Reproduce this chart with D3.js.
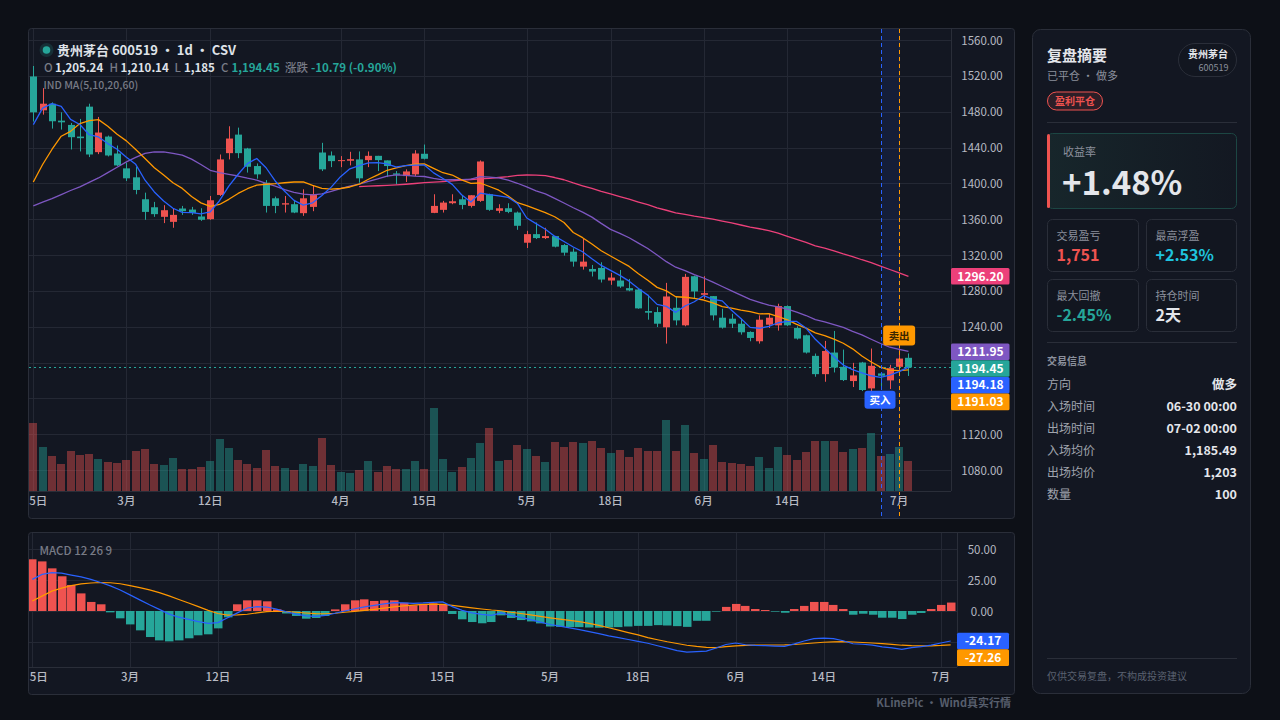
<!DOCTYPE html>
<html>
<head>
<meta charset="utf-8">
<script src="https://cdn.jsdelivr.net/npm/d3@7"></script>
<style>
  body { margin: 0; background: #0d1017; width: 1280px; height: 720px; overflow: hidden; }
  svg text { font-family: "Noto Sans CJK SC", "Noto Sans", sans-serif; }
</style>
</head>
<body>
<svg id="chart" width="1280" height="720"></svg>
<script>
const opens = [1519.3,1481.5,1488.9,1470,1465.2,1452.2,1485.6,1434.8,1452.2,1433.3,
  1416.7,1406.7,1382.2,1373.3,1362.6,1357,1371.9,1370.7,1363,1360,
  1387,1433.7,1454.4,1438.9,1419.3,1400.7,1383.3,1376.3,1376.7,1366.7,
  1373.7,1434.4,1431.1,1425.2,1425.2,1426.7,1425.9,1430.7,1425.6,1411.1,
  1408.1,1410,1433,1367,1370.4,1377.8,1382.2,1374.8,1380.4,1387.8,
  1369.3,1372.2,1367.4,1333.7,1343.3,1338.9,1341.1,1331.1,1323.7,1307,
  1304.4,1305.6,1291.5,1291.5,1283,1281.5,1257.4,1256.3,1239.3,1261.1,
  1241.5,1296.3,1275.6,1274.1,1250,1248.9,1243.3,1234.1,1223.7,1242.2,
  1241.5,1263,1238.5,1230.4,1207.4,1187,1211.1,1195.2,1179.3,1200,
  1171.1,1187.8,1180,1195.2,1205.24];
const highs = [1531,1506.3,1490.4,1479.3,1467.4,1471.9,1488.9,1474.1,1453.3,1442.2,
  1423,1418.5,1389.6,1379.3,1375.6,1372.2,1374.8,1373.7,1372.2,1385.9,
  1432.2,1463.7,1462.2,1439.6,1422.2,1403.7,1385.2,1385.9,1381.5,1393.3,
  1398.1,1445.2,1435.6,1430.4,1435.2,1435.6,1435.6,1430.7,1425.6,1413.7,
  1415.6,1437,1443.3,1387.8,1380.4,1387.8,1387,1386.7,1425.6,1388.5,
  1376.7,1377.8,1368.5,1347,1356.3,1350.4,1341.1,1332.2,1327.4,1337.8,
  1308.9,1311.9,1300,1303.3,1293.3,1282.2,1275.6,1261.9,1288.9,1274.1,
  1298.9,1297,1296.3,1274.1,1260,1254.4,1248.9,1234.8,1252.6,1254.4,
  1265.6,1263.7,1240.4,1231.1,1210,1224.1,1235.2,1214.4,1199.6,1200.7,
  1215.6,1188.5,1197.4,1215.6,1210.14];
const lows = [1469,1476.7,1461.1,1460,1437.8,1435.6,1429.3,1432.6,1430,1419.3,
  1402.6,1387.8,1359.3,1362.6,1355.6,1350.4,1364.8,1364.8,1358.1,1359.3,
  1385.9,1426.7,1428.1,1412,1405.2,1367.4,1366.7,1367.4,1366.7,1363.7,
  1368.9,1413.7,1418.1,1418.1,1420,1400.7,1418.1,1413.7,1407,1398.9,
  1401.5,1408.1,1426.7,1366.7,1367.4,1376.7,1371.1,1373,1379.3,1369.3,
  1366.7,1366.7,1348.1,1327.8,1337.8,1337.8,1328.5,1319.3,1307,1303.7,
  1296,1289.3,1286.7,1283.3,1279.6,1260,1247.8,1239.6,1221.1,1241.5,
  1240.4,1271.1,1271.1,1247,1237.8,1238.5,1231.1,1223.7,1221.1,1238.5,
  1235.6,1240.7,1225.6,1210,1184.1,1178.5,1188.9,1179.3,1172.6,1168.1,
  1167.4,1173,1170.4,1191.5,1185];
const closes = [1479.3,1488.9,1469.3,1468.1,1451.5,1450.4,1432.2,1456.7,1431.1,1420,
  1405.6,1392.6,1368.1,1365.6,1370,1364.8,1368.9,1367,1359.3,1381.1,
  1426.7,1450,1433.7,1418.5,1410,1374.8,1374.8,1377.8,1367.4,1383.3,
  1387.8,1415.6,1424.8,1425.9,1427,1405.6,1430.7,1425.9,1419.3,1409.6,
  1413.3,1433.3,1427.4,1374.8,1378.5,1380,1375.9,1386.7,1424.4,1370.4,
  1372.2,1368.1,1352.6,1343.3,1338.9,1341.1,1329.3,1322.6,1312.6,1312.6,
  1301.5,1292.6,1294.8,1284.8,1280.4,1260.4,1255.6,1243.3,1273.7,1247,
  1295.6,1279.3,1277.4,1252.6,1238.9,1243.3,1233.7,1227.4,1247.8,1250,
  1263,1241.5,1226.7,1211.1,1187,1212.9,1194.4,1180.4,1185.6,1169.3,
  1196.3,1185.2,1193.7,1204.4,1194.45];

// volume in 万手, and the colour the bar is drawn with (u = red, d = teal)
const volumes = [6.8,4.4,3.5,2.7,4.0,3.6,3.7,3.2,2.9,2.8,
  3.1,4.0,4.2,2.7,2.6,3.3,2.2,2.2,2.4,3.0,
  5.2,4.3,3.1,2.7,2.3,4.1,2.5,2.3,2.1,2.7,
  2.5,5.3,2.6,1.9,1.8,2.1,3.0,1.9,2.5,2.2,
  2.2,3.0,2.2,8.3,3.2,1.9,2.4,3.3,4.8,6.3,
  3.0,3.1,4.6,4.2,3.5,2.9,4.9,4.4,4.9,4.8,
  5.0,4.3,3.8,4.1,3.4,4.3,4.0,4.0,7.1,4.0,
  6.6,3.8,3.2,4.6,2.9,2.8,2.7,2.5,3.4,2.3,
  4.4,3.6,3.1,3.9,5.0,5.0,5.0,3.9,4.2,4.3,
  5.8,3.5,3.7,4.4,3.0];
const volDirs = ["u","d","u","u","u","u","u","d","u","u",
  "u","u","u","u","d","d","u","u","u","d",
  "d","d","u","u","u","u","u","d","u","d",
  "d","u","u","d","d","u","d","u","u","u",
  "d","d","u","d","d","d","u","d","d","u",
  "d","u","u","d","u","d","u","u","u","d",
  "u","u","d","u","u","u","u","u","d","u",
  "d","u","d","u","u","u","u","u","d","d",
  "d","u","u","u","u","d","u","u","d","u",
  "d","u","d","d","u"];

// moving-average values before enough bars are on screen
const ma5Head = [1465.6,1484,1488.9,1486];
const ma10Head = [1401.5,1421,1437.8,1452.6,1458,1466.7,1470,1471.1,1463.7];
const ma20Head = [1374.8,1379,1383,1387.5,1392,1396,1401,1406,1412,1418,
  1424,1429,1433.5,1435.2,1435,1433.5,1431.5,1427,1421];
const ma60Start = 35;
const ma60Head = [1396.3,1396.8,1397.3,1397.8,1398.3,1399,1399.8,1400.7,1401.3,1402,
  1402.8,1403.5,1404.3,1405,1405.6,1406.5,1407.5,1408.8,1409.3,1409.2,
  1408.5,1406.5,1404,1400.5];

const macdHist = [41.7,40,34.4,28,21,14.2,7.3,5.4,-1.1,-5.9,
  -10.8,-15.6,-21,-23.7,-24.5,-23.7,-22,-19.6,-18.8,-14,
  -5.1,5.4,8.6,8.6,7.8,1.3,-2,-4,-6.2,-5.6,
  -4,1.3,5.4,8.6,9.4,8.1,8.6,8.6,6.7,4.6,
  5.4,6.2,5.4,-2.4,-6.7,-8.9,-9.9,-8.9,-3.5,-5.6,
  -7.3,-8.4,-10,-12.5,-12.8,-13,-13,-13.3,-13.5,-13.3,
  -13,-12.5,-12,-12,-11.4,-11.7,-12.2,-12.8,-7.9,-7.9,
  -0.5,3.3,5.7,4.1,1.6,0.8,-0.5,-1.4,1.6,4.1,
  7.3,7.3,4.9,1.6,-3,-2.2,-3,-5.4,-5.4,-6.5,
  -3,-1.6,1.6,4.9,6.8];
const difLine = [25.5,29.5,31,30.5,29,27.5,25.5,23,20.3,17,
  13,9,5,1.3,-2.5,-5,-6.7,-8.5,-10,-9.4,
  -5.5,-1.5,2.4,3.5,3.2,1.5,-0.6,-2.5,-4,-4.4,
  -3.6,-1.8,0,1.8,3.3,4.5,5.8,6.7,6.5,6.2,
  6.5,7,7.3,3.5,0.5,-1.5,-2.7,-3.5,-1.5,-3.5,
  -5.2,-7,-9,-10.9,-12.2,-13.6,-15,-16.6,-18.3,-20,
  -21.5,-23,-24.5,-26,-28,-30,-32,-33.2,-32.8,-32.3,
  -29.8,-27,-25.8,-27.2,-27.8,-28,-28.3,-28.5,-26.5,-24.2,
  -22.3,-21.8,-22.3,-24,-26.4,-26.8,-27.5,-29,-29.8,-31,
  -29.5,-28.8,-27.5,-25.8,-24.17];
const deaLine = [8,12,16,18.5,20.5,21.8,22.6,23,22.8,22,
  20.5,18.8,17,14.8,12.2,9.3,6.5,3.5,0.5,-2,
  -3.3,-3.2,-2.6,-1.5,-0.5,-0.2,-0.5,-1,-1.6,-2.1,
  -2.2,-1.8,-1,-0.3,0.5,1.3,2.3,3.3,4.2,4.8,
  5.3,5.5,5.4,4.6,3.5,2.5,1.6,0.8,0.2,-1,
  -2,-3.2,-4.4,-5.5,-6.6,-7.6,-8.6,-10,-11.6,-13.5,
  -15.4,-17.4,-19.3,-21.5,-23.2,-24.8,-26.2,-27.6,-28.6,-29.4,
  -29.5,-28.8,-28.2,-27.8,-27.5,-27.4,-27.4,-27.3,-27,-26.4,
  -25.8,-25.2,-24.9,-24.7,-25,-25.4,-25.8,-26.3,-26.9,-27.6,
  -28,-28.2,-28.1,-27.8,-27.26];

const tickIdx = [0,10,19,33,42,53,62,72,81,93];
const tickLabels = ["5日","3月","12日","4月","15日","5月","18日","6月","14日","7月"];
const priceTicks = [1560,1520,1480,1440,1400,1360,1320,1280,1240,1200,1160,1120,1080];
const macdTicks = [50,25,0,-25];

const tagValues = [1296.20,1211.95,1194.45,1194.18,1191.03];
const tagColors = ["#ec407a","#7e57c2","#26a69a","#2962ff","#ff9800"];
const macdTagValues = [-24.17,-27.26];
const macdTagColors = ["#2962ff","#ff9800"];

const buyIdx = 91, sellIdx = 93;

const UP = "#ef5350", DOWN = "#26a69a", GRID = "#242834", AXIS_TXT = "#b7bac3";

const svg = d3.select("#chart");
const n = closes.length;

// panels
svg.append("rect").attr("x", 28.5).attr("y", 28.5).attr("width", 986).attr("height", 490)
  .attr("rx", 3).attr("fill", "#131722").attr("stroke", "#2a2e39");
svg.append("rect").attr("x", 28.5).attr("y", 532.5).attr("width", 986).attr("height", 162)
  .attr("rx", 3).attr("fill", "#131722").attr("stroke", "#2a2e39");

// scales
const x = d3.scaleBand().domain(d3.range(n)).range([28.65, 28.65 + 9.31 * n]);
const cx = i => x(i) + x.bandwidth() / 2;
const y = d3.scaleLinear().domain([1080, 1560]).range([470, 40]);
const yVol = d3.scaleLinear().domain([0, 10]).range([491, 391]);

const xm = d3.scaleBand().domain(d3.range(n)).range([27.4, 27.4 + 9.77 * n]);
const cxm = i => xm(i) + xm.bandwidth() / 2;
const ym = d3.scaleLinear().domain([-25, 50]).range([642, 549]);

const defs = svg.append("defs");
defs.append("clipPath").attr("id", "clipMain").append("rect")
  .attr("x", 29).attr("y", 29).attr("width", 922).attr("height", 462);
defs.append("clipPath").attr("id", "clipMacd").append("rect")
  .attr("x", 29).attr("y", 533).attr("width", 928).attr("height", 134);

// ---------- main price pane ----------
const grid = svg.append("g");
grid.selectAll(".hg").data(priceTicks).enter().append("line")
  .attr("x1", 29).attr("x2", 951)
  .attr("y1", d => Math.round(y(d)) + 0.5).attr("y2", d => Math.round(y(d)) + 0.5)
  .attr("stroke", GRID);
grid.selectAll(".vg").data(tickIdx).enter().append("line")
  .attr("x1", d => Math.round(cx(d)) + 0.5).attr("x2", d => Math.round(cx(d)) + 0.5)
  .attr("y1", 29).attr("y2", 491)
  .attr("stroke", GRID);

// trade holding band
const bx0 = Math.round(cx(buyIdx)) + 0.5, bx1 = Math.round(cx(sellIdx)) + 0.5;
svg.append("rect").attr("x", bx0).attr("y", 29).attr("width", bx1 - bx0).attr("height", 490)
  .attr("fill", "rgba(41,98,255,0.1)");

const main = svg.append("g").attr("clip-path", "url(#clipMain)");

// volume
main.selectAll(".vol").data(volumes).enter().append("rect")
  .attr("x", (d, i) => Math.round(cx(i)) - 4)
  .attr("width", 8)
  .attr("y", d => yVol(d))
  .attr("height", d => yVol(0) - yVol(d))
  .attr("fill", (d, i) => volDirs[i] === "u" ? "rgba(239,83,80,0.42)" : "rgba(38,166,154,0.42)");

// last close dotted line
main.append("line")
  .attr("x1", 29).attr("x2", 951)
  .attr("y1", Math.round(y(closes[n - 1])) + 0.5).attr("y2", Math.round(y(closes[n - 1])) + 0.5)
  .attr("stroke", DOWN).attr("stroke-dasharray", "2,3");

// candles
const candle = main.selectAll(".candle").data(closes).enter().append("g");
candle.append("line")
  .attr("x1", (d, i) => Math.round(cx(i)) + 0.5).attr("x2", (d, i) => Math.round(cx(i)) + 0.5)
  .attr("y1", (d, i) => y(highs[i])).attr("y2", (d, i) => y(lows[i]))
  .attr("stroke", (d, i) => d >= opens[i] ? UP : DOWN);
candle.append("rect")
  .attr("x", (d, i) => Math.round(cx(i)) - 3)
  .attr("width", 7)
  .attr("y", (d, i) => y(Math.max(d, opens[i])))
  .attr("height", (d, i) => Math.max(1, Math.abs(y(d) - y(opens[i]))))
  .attr("fill", (d, i) => d >= opens[i] ? UP : DOWN);

// moving averages
function movingAvg(len, head, start) {
  return closes.map((c, i) => {
    if (i >= len - 1) return d3.mean(closes.slice(i - len + 1, i + 1));
    if (i >= start) return head[i - start];
    return null;
  });
}
const maSeries = [
  { vals: movingAvg(5, ma5Head, 0), color: "#2962ff" },
  { vals: movingAvg(10, ma10Head, 0), color: "#ff9800" },
  { vals: movingAvg(20, ma20Head, 0), color: "#7e57c2" },
  { vals: movingAvg(60, ma60Head, ma60Start), color: "#ec407a" }
];
const maLine = d3.line()
  .defined(d => d[1] != null)
  .x(d => cx(d[0]))
  .y(d => y(d[1]));
maSeries.slice().reverse().forEach(s => {
  main.append("path")
    .attr("d", maLine(s.vals.map((v, i) => [i, v])))
    .attr("fill", "none").attr("stroke", s.color).attr("stroke-width", 1.3)
    .attr("stroke-linejoin", "round");
});

// buy / sell lines and labels
svg.append("line").attr("x1", bx0).attr("x2", bx0).attr("y1", 29).attr("y2", 519)
  .attr("stroke", "#2962ff").attr("stroke-dasharray", "4,3");
svg.append("line").attr("x1", bx1).attr("x2", bx1).attr("y1", 29).attr("y2", 519)
  .attr("stroke", "#ff9800").attr("stroke-dasharray", "4,3");

const buyY = y(lows[buyIdx]) + 4;
svg.append("rect").attr("x", cx(buyIdx) - 16).attr("y", buyY).attr("width", 31).attr("height", 18)
  .attr("rx", 3).attr("fill", "#2962ff");
svg.append("text").attr("x", cx(buyIdx) - 0.5).attr("y", buyY + 13).attr("text-anchor", "middle")
  .attr("font-size", 10.5).attr("font-weight", 700).attr("fill", "#ffffff").text("买入");

const sellY = y(highs[sellIdx]) - 23;
svg.append("rect").attr("x", cx(sellIdx) - 16).attr("y", sellY).attr("width", 32).attr("height", 20)
  .attr("rx", 3).attr("fill", "#ff9800");
svg.append("text").attr("x", cx(sellIdx)).attr("y", sellY + 14).attr("text-anchor", "middle")
  .attr("font-size", 10.5).attr("font-weight", 700).attr("fill", "#3a2600").text("卖出");

// axes lines
svg.append("line").attr("x1", 951.5).attr("x2", 951.5).attr("y1", 29).attr("y2", 491).attr("stroke", "#2a2e39");
svg.append("line").attr("x1", 29).attr("x2", 951).attr("y1", 491.5).attr("y2", 491.5).attr("stroke", "#2a2e39");

// price tags on the axis
function placeTags(values, scale, gap) {
  const order = values.map((v, i) => ({ v, i, ty: scale(v) })).sort((a, b) => a.ty - b.ty);
  let prev = -Infinity;
  order.forEach(o => { o.ty = Math.max(o.ty, prev + gap); prev = o.ty; });
  return order;
}
const tags = placeTags(tagValues, y, 16.7);

// price axis (labels hidden under a tag are left out, as on the chart)
const visibleTicks = priceTicks.filter(t => !tags.some(g => Math.abs(g.ty - y(t)) < 14));
const yAxis = d3.axisRight(y).tickValues(visibleTicks).tickSize(0).tickFormat(d3.format(".2f"));
const yAxisG = svg.append("g").attr("transform", "translate(951,0)").call(yAxis);
yAxisG.select(".domain").remove();
yAxisG.selectAll("text").attr("x", 31).attr("text-anchor", "middle").attr("dy", "0.35em")
  .attr("fill", AXIS_TXT).attr("font-size", 11.5).attr("font-family", "Noto Sans CJK SC");

tags.forEach(t => {
  svg.append("rect").attr("x", 951).attr("y", t.ty - 8.3).attr("width", 58.5).attr("height", 16.6)
    .attr("rx", 1.5).attr("fill", tagColors[t.i]);
  svg.append("text").attr("x", 980.5).attr("y", t.ty + 4.3).attr("text-anchor", "middle")
    .attr("font-size", 12).attr("font-weight", 700).attr("fill", "#ffffff")
    .text(t.v.toFixed(2));
});

// time axis
const xAxis = d3.axisBottom(x).tickValues(tickIdx).tickSize(0)
  .tickFormat(i => tickLabels[tickIdx.indexOf(i)]);
const xAxisG = svg.append("g").attr("transform", "translate(0,491)").call(xAxis);
xAxisG.select(".domain").remove();
xAxisG.selectAll("text").attr("y", 14).attr("dy", 0)
  .attr("fill", AXIS_TXT).attr("font-size", 11.5).attr("font-weight", 500)
  .attr("font-family", "Noto Sans CJK SC");
xAxisG.selectAll(".tick").filter(d => d === 0).select("text").attr("text-anchor", "start").attr("x", -4);

// legend
svg.append("circle").attr("cx", 46.5).attr("cy", 50).attr("r", 7).attr("fill", "rgba(38,166,154,0.18)");
svg.append("circle").attr("cx", 46.5).attr("cy", 50).attr("r", 3.8).attr("fill", DOWN);
svg.append("text").attr("x", 57).attr("y", 54.5).attr("font-size", 13).attr("font-weight", 700)
  .attr("fill", "#dfe2e8").text("贵州茅台 600519 · 1d · CSV");

const ohlcParts = [
  { t: "O", x: 44, c: "#787b86", w: 500 },
  { t: "1,205.24", x: 55, c: "#dfe2e8", w: 700 },
  { t: "H", x: 109.5, c: "#787b86", w: 500 },
  { t: "1,210.14", x: 120.5, c: "#dfe2e8", w: 700 },
  { t: "L", x: 174.5, c: "#787b86", w: 500 },
  { t: "1,185", x: 184, c: "#dfe2e8", w: 700 },
  { t: "C", x: 221, c: "#787b86", w: 500 },
  { t: "1,194.45", x: 231.5, c: DOWN, w: 700 },
  { t: "涨跌", x: 285, c: "#787b86", w: 500 },
  { t: "-10.79 (-0.90%)", x: 311, c: DOWN, w: 700 }
];
svg.selectAll(".ohlc").data(ohlcParts).enter().append("text")
  .attr("x", d => d.x).attr("y", 72).attr("font-size", 11.5).attr("font-weight", d => d.w)
  .attr("fill", d => d.c).text(d => d.t);
svg.append("text").attr("x", 43.5).attr("y", 89).attr("font-size", 10.5).attr("font-weight", 500)
  .attr("fill", "#787b86").text("IND MA(5,10,20,60)");

// ---------- MACD pane ----------
const mgrid = svg.append("g");
mgrid.selectAll(".hg").data(macdTicks).enter().append("line")
  .attr("x1", 29).attr("x2", 957)
  .attr("y1", d => Math.round(ym(d)) + 0.5).attr("y2", d => Math.round(ym(d)) + 0.5)
  .attr("stroke", GRID);
mgrid.selectAll(".vg").data(tickIdx).enter().append("line")
  .attr("x1", d => Math.round(cxm(d)) + 0.5).attr("x2", d => Math.round(cxm(d)) + 0.5)
  .attr("y1", 533).attr("y2", 667)
  .attr("stroke", GRID);

const macd = svg.append("g").attr("clip-path", "url(#clipMacd)");
macd.selectAll(".hist").data(macdHist).enter().append("rect")
  .attr("x", (d, i) => Math.round(cxm(i)) - 4)
  .attr("width", 8.5)
  .attr("y", d => Math.min(ym(d), ym(0)))
  .attr("height", d => Math.abs(ym(d) - ym(0)))
  .attr("fill", d => d >= 0 ? UP : DOWN);

const mLine = d3.line().x((d, i) => cxm(i)).y(d => ym(d));
macd.append("path").attr("d", mLine(deaLine)).attr("fill", "none")
  .attr("stroke", "#ff9800").attr("stroke-width", 1.2);
macd.append("path").attr("d", mLine(difLine)).attr("fill", "none")
  .attr("stroke", "#2962ff").attr("stroke-width", 1.2);

svg.append("line").attr("x1", 957.5).attr("x2", 957.5).attr("y1", 533).attr("y2", 667).attr("stroke", "#2a2e39");
svg.append("line").attr("x1", 29).attr("x2", 957).attr("y1", 667.5).attr("y2", 667.5).attr("stroke", "#2a2e39");

svg.append("text").attr("x", 39.5).attr("y", 555).attr("font-size", 11.5).attr("font-weight", 500)
  .attr("fill", "#787b86").text("MACD 12 26 9");

const myAxis = d3.axisRight(ym).tickValues([50, 25, 0]).tickSize(0).tickFormat(d3.format(".2f"));
const myAxisG = svg.append("g").attr("transform", "translate(957,0)").call(myAxis);
myAxisG.select(".domain").remove();
myAxisG.selectAll("text").attr("x", 25).attr("text-anchor", "middle").attr("dy", "0.35em")
  .attr("fill", AXIS_TXT).attr("font-size", 11.5).attr("font-family", "Noto Sans CJK SC");

const mxAxis = d3.axisBottom(xm).tickValues(tickIdx).tickSize(0)
  .tickFormat(i => tickLabels[tickIdx.indexOf(i)]);
const mxAxisG = svg.append("g").attr("transform", "translate(0,667)").call(mxAxis);
mxAxisG.select(".domain").remove();
mxAxisG.selectAll("text").attr("y", 14).attr("dy", 0)
  .attr("fill", AXIS_TXT).attr("font-size", 11.5).attr("font-weight", 500)
  .attr("font-family", "Noto Sans CJK SC");
mxAxisG.selectAll(".tick").filter(d => d === 0).select("text").attr("text-anchor", "start").attr("x", -2.5);

placeTags(macdTagValues, ym, 16.7).forEach(t => {
  svg.append("rect").attr("x", 957).attr("y", t.ty - 8.3).attr("width", 52).attr("height", 16.6)
    .attr("rx", 1.5).attr("fill", macdTagColors[t.i]);
  svg.append("text").attr("x", 983).attr("y", t.ty + 4.3).attr("text-anchor", "middle")
    .attr("font-size", 12).attr("font-weight", 700).attr("fill", "#ffffff")
    .text(t.v.toFixed(2));
});

svg.append("text").attr("x", 1011).attr("y", 707).attr("text-anchor", "end")
  .attr("font-size", 11).attr("font-weight", 700).attr("fill", "#575e6c")
  .text("KLinePic · Wind真实行情");

// ---------- summary side panel ----------
const side = svg.append("g");
side.append("rect").attr("x", 1032.5).attr("y", 29.5).attr("width", 218).attr("height", 664)
  .attr("rx", 8).attr("fill", "#131722").attr("stroke", "#2a2e39");

side.append("text").attr("x", 1047).attr("y", 61).attr("font-size", 15).attr("font-weight", 700)
  .attr("fill", "#e4e6eb").text("复盘摘要");
side.append("text").attr("x", 1047).attr("y", 80).attr("font-size", 11)
  .attr("fill", "#8b909c").text("已平仓 · 做多");
side.append("rect").attr("x", 1047.5).attr("y", 92).attr("width", 55).attr("height", 18).attr("rx", 9)
  .attr("fill", "rgba(239,83,80,0.12)").attr("stroke", UP);
side.append("text").attr("x", 1075).attr("y", 105).attr("text-anchor", "middle")
  .attr("font-size", 10).attr("font-weight", 700).attr("fill", UP).text("盈利平仓");

side.append("rect").attr("x", 1178.5).attr("y", 43.5).attr("width", 58).attr("height", 33).attr("rx", 16.5)
  .attr("fill", "#121620").attr("stroke", "#2a2e39");
side.append("text").attr("x", 1228).attr("y", 57.5).attr("text-anchor", "end")
  .attr("font-size", 10).attr("font-weight", 700).attr("fill", "#e4e6eb").text("贵州茅台");
side.append("text").attr("x", 1228.5).attr("y", 71).attr("text-anchor", "end")
  .attr("font-size", 9).attr("fill", "#8b909c").text("600519");

side.append("line").attr("x1", 1047).attr("x2", 1237).attr("y1", 122.5).attr("y2", 122.5).attr("stroke", "#2a2e39");

const grad = defs.append("linearGradient").attr("id", "cardGrad").attr("x1", 0).attr("x2", 1).attr("y1", 0).attr("y2", 0);
grad.append("stop").attr("offset", "0%").attr("stop-color", "#17262b");
grad.append("stop").attr("offset", "100%").attr("stop-color", "#131822");
side.append("rect").attr("x", 1047.5).attr("y", 133.5).attr("width", 189).attr("height", 75).attr("rx", 5)
  .attr("fill", "url(#cardGrad)").attr("stroke", "#1c4643");
side.append("rect").attr("x", 1047).attr("y", 134).attr("width", 3).attr("height", 74).attr("rx", 1.5)
  .attr("fill", UP);
side.append("text").attr("x", 1063).attr("y", 155.5).attr("font-size", 11)
  .attr("fill", "#8b909c").text("收益率");
side.append("text").attr("x", 1062).attr("y", 195).attr("font-size", 33).attr("font-weight", 700)
  .attr("font-family", "Noto Sans").attr("fill", "#e4e6eb").text("+1.48%");

const statLabels = ["交易盈亏", "最高浮盈", "最大回撤", "持仓时间"];
const statValues = ["1,751", "+2.53%", "-2.45%", "2天"];
const statColors = [UP, "#1fc3de", DOWN, "#e4e6eb"];
const cardPos = [[1047.5, 219.5, 91], [1146.5, 219.5, 90], [1047.5, 279.5, 91], [1146.5, 279.5, 90]];
cardPos.forEach((p, i) => {
  side.append("rect").attr("x", p[0]).attr("y", p[1]).attr("width", p[2]).attr("height", 52).attr("rx", 5)
    .attr("fill", "#121620").attr("stroke", "#2a2e39");
  side.append("text").attr("x", p[0] + 9).attr("y", p[1] + 20.5).attr("font-size", 11)
    .attr("fill", "#8b909c").text(statLabels[i]);
  side.append("text").attr("x", p[0] + 9).attr("y", p[1] + 41).attr("font-size", 16).attr("font-weight", 700)
    .attr("fill", statColors[i]).text(statValues[i]);
});

side.append("line").attr("x1", 1047).attr("x2", 1237).attr("y1", 342.5).attr("y2", 342.5).attr("stroke", "#2a2e39");
side.append("text").attr("x", 1047).attr("y", 365).attr("font-size", 10).attr("font-weight", 700)
  .attr("fill", "#8b909c").text("交易信息");

const infoLabels = ["方向", "入场时间", "出场时间", "入场均价", "出场均价", "数量"];
const infoValues = ["做多", "06-30 00:00", "07-02 00:00", "1,185.49", "1,203", "100"];
infoLabels.forEach((l, i) => {
  side.append("text").attr("x", 1047).attr("y", 389 + i * 22).attr("font-size", 12)
    .attr("fill", "#a0a4ae").text(l);
  side.append("text").attr("x", 1237).attr("y", 389 + i * 22).attr("text-anchor", "end")
    .attr("font-size", 12.5).attr("font-weight", 700).attr("fill", "#e4e6eb").text(infoValues[i]);
});

side.append("line").attr("x1", 1047).attr("x2", 1237).attr("y1", 658.5).attr("y2", 658.5).attr("stroke", "#2a2e39");
side.append("text").attr("x", 1047).attr("y", 680).attr("font-size", 10)
  .attr("fill", "#5a6170").text("仅供交易复盘，不构成投资建议");
</script>
</body>
</html>
